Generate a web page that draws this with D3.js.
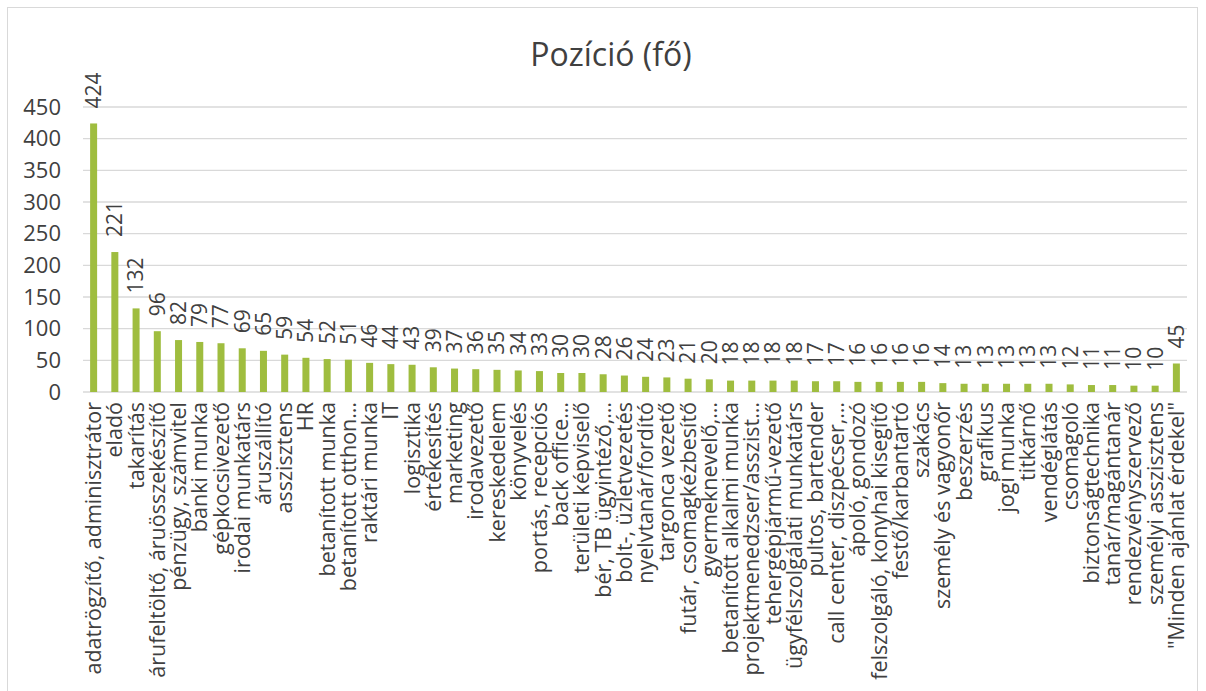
<!DOCTYPE html>
<html>
<head>
<meta charset="utf-8">
<script src="https://cdn.jsdelivr.net/npm/d3@7"></script>
<style>
  body { margin: 0; background: #fff; }
  text { font-family: "Open Sans", sans-serif; fill: #404040; }
</style>
</head>
<body>
<div id="chart"></div>
<script>
const categories = [
  "adatrögzítő, adminisztrátor", "eladó", "takarítás", "árufeltöltő, áruösszekészítő",
  "pénzügy, számvitel", "banki munka", "gépkocsivezető", "irodai munkatárs", "áruszállító",
  "asszisztens", "HR", "betanított munka", "betanított otthon…", "raktári munka", "IT",
  "logisztika", "értékesítés", "marketing", "irodavezető", "kereskedelem", "könyvelés",
  "portás, recepciós", "back office…", "területi képviselő", "bér, TB ügyintéző,…",
  "bolt-, üzletvezetés", "nyelvtanár/fordító", "targonca vezető", "futár, csomagkézbesítő",
  "gyermeknevelő,…", "betanított alkalmi munka", "projektmenedzser/asszist…",
  "tehergépjármű-vezető", "ügyfélszolgálati munkatárs", "pultos, bartender",
  "call center, diszpécser,…", "ápoló, gondozó", "felszolgáló, konyhai kisegítő",
  "festő/karbantartó", "szakács", "személy és vagyonőr", "beszerzés", "grafikus",
  "jogi munka", "titkárnő", "vendéglátás", "csomagoló", "biztonságtechnika",
  "tanár/magántanár", "rendezvényszervező", "személyi asszisztens", "\"Minden ajánlat érdekel\""
];
const values = [
  424, 221, 132, 96, 82, 79, 77, 69, 65, 59, 54, 52, 51, 46, 44, 43, 39, 37, 36, 35, 34,
  33, 30, 30, 28, 26, 24, 23, 21, 20, 18, 18, 18, 18, 17, 17, 16, 16, 16, 16, 14, 13, 13,
  13, 13, 13, 12, 11, 11, 10, 10, 45
];
const yTicks = [0, 50, 100, 150, 200, 250, 300, 350, 400, 450];
const title = "Pozíció (fő)";

const W = 1206, H = 691;
const plot = { left: 83, right: 1187, top: 107, bottom: 392 };

const svg = d3.select("#chart").append("svg")
  .attr("width", W)
  .attr("height", H);

// chart frame
svg.append("rect")
  .attr("x", 7.5).attr("y", 7.5)
  .attr("width", 1190).attr("height", 700)
  .attr("fill", "none")
  .attr("stroke", "#d9d9d9");

const x = d3.scaleBand()
  .domain(categories)
  .range([plot.left, plot.right])
  .paddingInner(0.67)
  .paddingOuter(0.335);

const y = d3.scaleLinear()
  .domain([0, 450])
  .range([plot.bottom, plot.top]);

// gridlines
svg.append("g")
  .selectAll("line")
  .data(yTicks)
  .join("line")
  .attr("x1", plot.left).attr("x2", plot.right)
  .attr("y1", d => y(d)).attr("y2", d => y(d))
  .attr("stroke", "#d9d9d9")
  .attr("stroke-width", 1.3);

// y axis labels
const yAxis = svg.append("g")
  .attr("transform", "translate(" + (plot.left - 22) + ",0)")
  .call(d3.axisLeft(y).tickValues(yTicks).tickSize(0).tickPadding(0));
yAxis.select(".domain").remove();
yAxis.selectAll("text")
  .attr("font-size", 22)
  .attr("font-family", "Open Sans, sans-serif")
  .attr("fill", "#404040");

// bars
svg.append("g")
  .selectAll("rect")
  .data(values)
  .join("rect")
  .attr("x", (d, i) => x(categories[i]))
  .attr("y", d => y(d))
  .attr("width", x.bandwidth())
  .attr("height", d => y(0) - y(d))
  .attr("fill", "#9fbd3f");

// data labels
svg.append("g")
  .selectAll("text")
  .data(values)
  .join("text")
  .attr("transform", (d, i) => "translate(" + (x(categories[i]) + x.bandwidth() / 2) + "," + (y(d) - 15) + ") rotate(-90)")
  .attr("dy", "0.35em")
  .attr("font-size", 21)
  .text(d => d);

// category labels
svg.append("g")
  .selectAll("text")
  .data(categories)
  .join("text")
  .attr("transform", d => "translate(" + (x(d) + x.bandwidth() / 2) + "," + (plot.bottom + 10) + ") rotate(-90)")
  .attr("text-anchor", "end")
  .attr("dy", "0.35em")
  .attr("font-size", 21.5)
  .text(d => d);

// title
svg.append("text")
  .attr("x", 611)
  .attr("y", 66)
  .attr("text-anchor", "middle")
  .attr("font-size", 32)
  .text(title);
</script>
</body>
</html>
